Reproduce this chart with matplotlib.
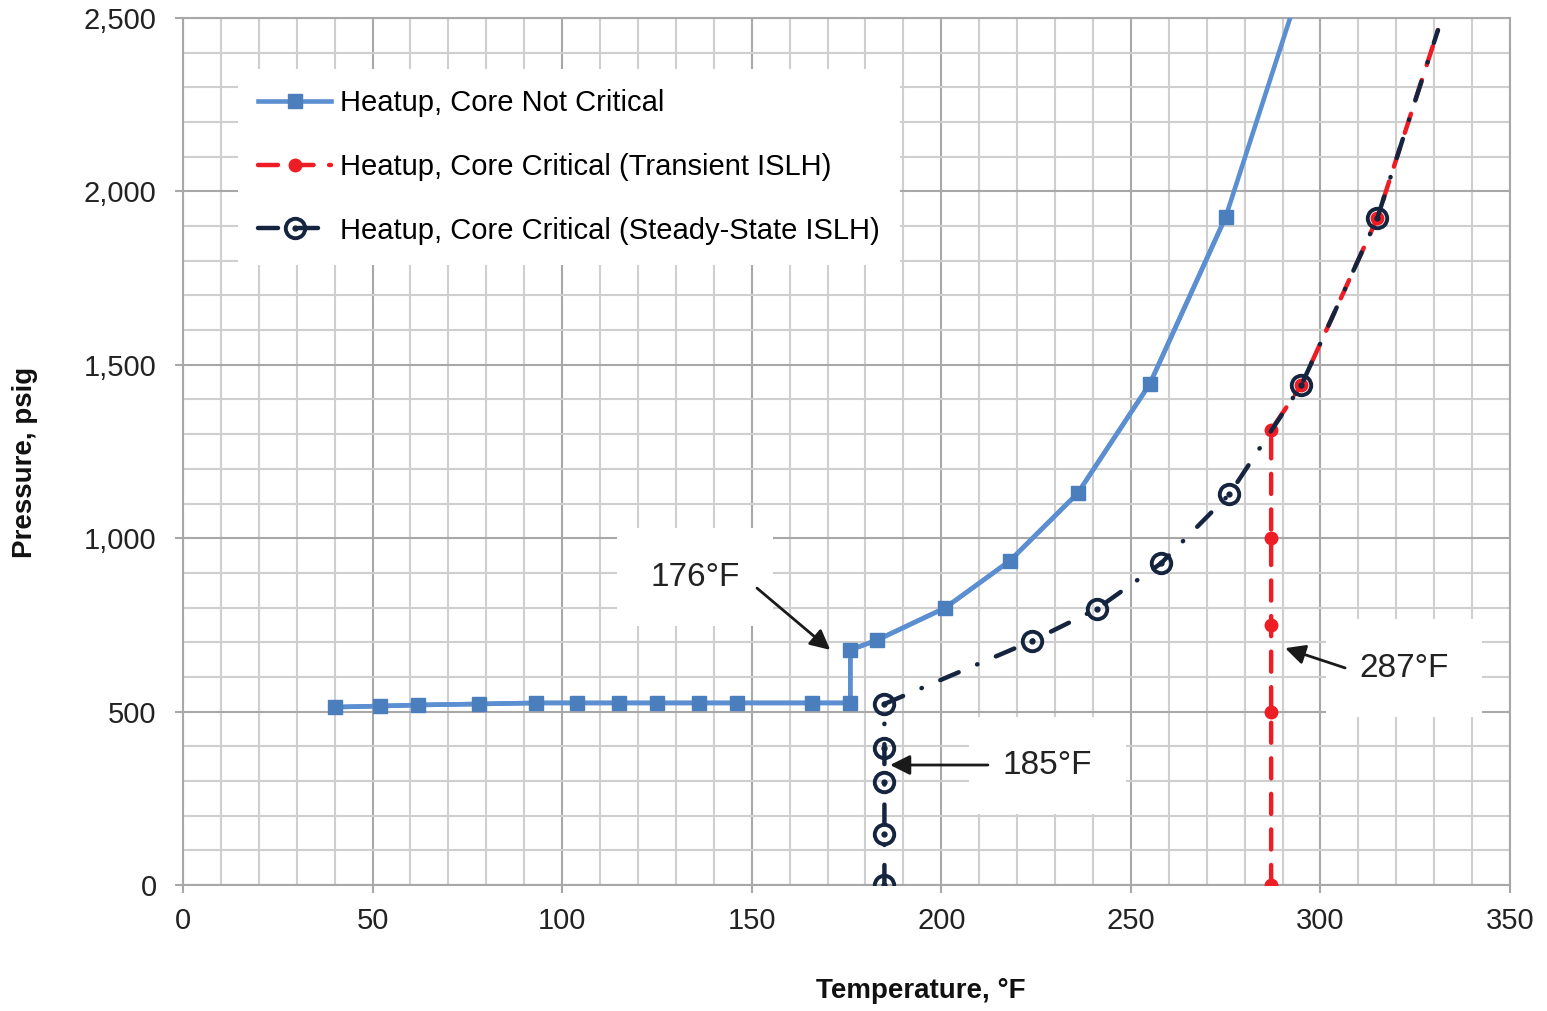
import matplotlib
matplotlib.use('Agg')
import matplotlib.pyplot as plt
from matplotlib.ticker import MultipleLocator, FuncFormatter
from matplotlib.legend_handler import HandlerTuple
from matplotlib.lines import Line2D

plt.rcParams['font.family'] = ['Liberation Sans', 'DejaVu Sans']

# heatup, core not critical
t_nc = [40, 52, 62, 78, 93, 104, 115, 125, 136, 146, 166, 176, 176, 183, 201, 218, 236, 255, 275, 300]
p_nc = [513, 516, 519, 522, 525, 525, 525, 525, 525, 525, 525, 525, 678, 706, 799, 934, 1130, 1445, 1926, 2770]

# heatup, core critical (transient ISLH)
t_tr = [287, 287, 287, 287, 287, 295, 315, 331]
p_tr = [0, 500, 750, 1000, 1312, 1442, 1923, 2465]

# heatup, core critical (steady-state ISLH)
t_ss = [185, 185, 185, 185, 185, 224, 241, 258, 276, 295, 315, 331]
p_ss = [0, 147, 297, 395, 522, 704, 796, 928, 1127, 1442, 1923, 2465]

lab_nc = 'Heatup, Core Not Critical'
lab_tr = 'Heatup, Core Critical (Transient ISLH)'
lab_ss = 'Heatup, Core Critical (Steady-State ISLH)'

c_blue = '#5b8fd1'
c_blue_m = '#4a7ebd'
c_red = '#ee1c25'
c_navy = '#15253f'

W, H = 1547, 1011
fig = plt.figure(figsize=(W / 100, H / 100), dpi=100)
ax = fig.add_axes([183 / W, 1 - 885 / H, 1327 / W, 867 / H])

# blue series
ax.plot(t_nc, p_nc, color=c_blue, lw=3.3, zorder=3)
h_nc, = ax.plot(t_nc[:-1], p_nc[:-1], color=c_blue, lw=3.3, marker='s', ms=10,
                mfc=c_blue_m, mec=c_blue_m, zorder=4, label=lab_nc)

# red series
ax.plot(t_tr, p_tr, color=c_red, lw=3.2, dashes=(4.5, 3.5), dash_capstyle='round', zorder=3)
h_tr, = ax.plot(t_tr[:-1], p_tr[:-1], ls='none', marker='o', ms=9, color=c_red, zorder=4)

# navy series
ax.plot(t_ss, p_ss, color=c_navy, lw=3.2, dashes=(4.5, 4.5, 0.1, 4.5), dash_capstyle='round', zorder=5)
h_ss, = ax.plot(t_ss[:-1], p_ss[:-1], ls='none', marker='o', ms=14, mfc='none', mec=c_navy,
                mew=2.8, zorder=6)
h_ssd, = ax.plot(t_ss[:-1], p_ss[:-1], ls='none', marker='o', ms=3.5, color=c_navy, zorder=7)

ax.set_xlim(0, 350)
ax.set_ylim(0, 2500)
ax.xaxis.set_major_locator(MultipleLocator(50))
ax.xaxis.set_minor_locator(MultipleLocator(10))
ax.yaxis.set_major_locator(MultipleLocator(500))
ax.yaxis.set_minor_locator(MultipleLocator(100))
ax.yaxis.set_major_formatter(FuncFormatter(lambda v, p: f'{int(v):,}'))
ax.grid(which='minor', color='#cfcfcf', lw=1.5, zorder=0)
ax.grid(which='major', color='#a8a8a8', lw=1.5, zorder=0)
ax.set_axisbelow(True)
for s in ax.spines.values():
    s.set_color('#a8a8a8')
    s.set_linewidth(1.5)
ax.tick_params(which='major', length=6, width=1.5, color='#a8a8a8', labelsize=21,
               labelcolor='#222222')
ax.tick_params(axis='x', pad=10)
ax.tick_params(axis='y', pad=13)
ax.tick_params(which='minor', length=0)

ax.set_xlabel('Temperature, °F', fontsize=20, fontweight='bold', color='#111111')
ax.set_ylabel('Pressure, psig', fontsize=20, fontweight='bold', color='#111111')
ax.xaxis.set_label_coords(0.556, -0.107)
ax.yaxis.set_label_coords(-0.109, 0.487)

# legend
h_tr_leg = Line2D([], [], color=c_red, lw=3.2, dashes=(4.5, 3.5), dash_capstyle='round',
                  marker='o', ms=9)
h_ss_leg = Line2D([], [], color=c_navy, lw=3.2, dashes=(4.5, 4.5), dash_capstyle='round',
                  marker='o', ms=14, mfc='none', mew=2.8)
h_ss_dot = Line2D([], [], ls='none', color=c_navy, marker='o', ms=3.5)
leg = fig.legend([h_nc, h_tr_leg, (h_ss_leg, h_ss_dot)], [lab_nc, lab_tr, lab_ss],
                 loc='upper left', bbox_to_anchor=(238 / W, 1 - 69 / H),
                 bbox_transform=fig.transFigure, fontsize=21, frameon=True,
                 fancybox=False, edgecolor='none', facecolor='white', framealpha=1,
                 handlelength=2.5, handletextpad=0.3, labelspacing=1.22,
                 borderpad=0.7, borderaxespad=0,
                 handler_map={tuple: HandlerTuple(ndivide=1)})
leg.set_zorder(10)

# annotations
box = dict(boxstyle='square,pad=1.0', fc='white', ec='none')
arrow = dict(arrowstyle='-|>', color='#1a1a1a', lw=2, mutation_scale=30, shrinkA=0, shrinkB=0)
ax.text(135, 888, '176°F', fontsize=24, ha='center', va='center', color='#222222', bbox=box, zorder=8)
ax.annotate('', xy=(170.7, 678), xytext=(151.4, 856), arrowprops=arrow, zorder=9)
ax.text(228, 345, '185°F', fontsize=24, ha='center', va='center', color='#222222', bbox=box, zorder=8)
ax.annotate('', xy=(186.5, 346), xytext=(212.3, 346), arrowprops=arrow, zorder=9)
ax.text(322, 625, '287°F', fontsize=24, ha='center', va='center', color='#222222', bbox=box, zorder=8)
ax.annotate('', xy=(290.7, 683), xytext=(306.5, 626), arrowprops=arrow, zorder=9)

fig.savefig('out.png', dpi=100)
